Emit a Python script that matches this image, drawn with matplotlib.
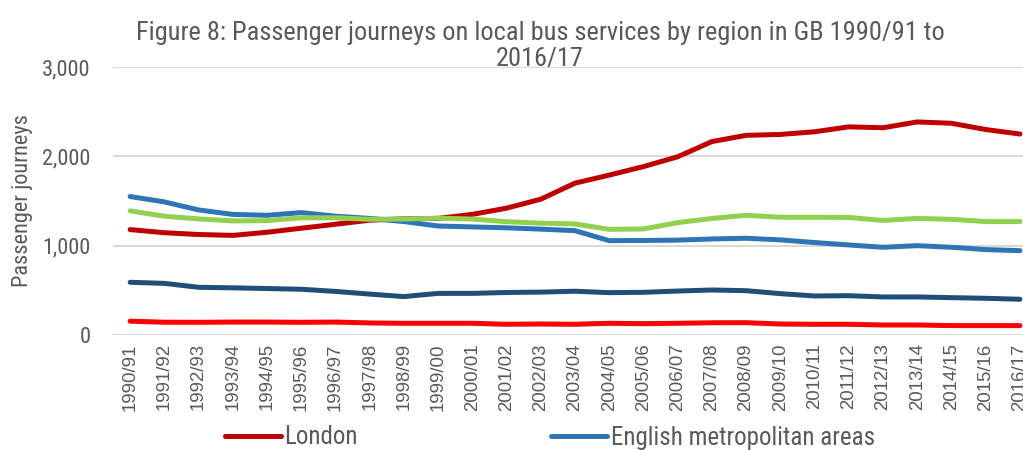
import matplotlib
matplotlib.use("Agg")
import matplotlib.pyplot as plt
import numpy as np

years = ["1990/91", "1991/92", "1992/93", "1993/94", "1994/95", "1995/96", "1996/97",
         "1997/98", "1998/99", "1999/00", "2000/01", "2001/02", "2002/03", "2003/04",
         "2004/05", "2005/06", "2006/07", "2007/08", "2008/09", "2009/10", "2010/11",
         "2011/12", "2012/13", "2013/14", "2014/15", "2015/16", "2016/17"]

london = [1180, 1145, 1125, 1115, 1150, 1195, 1240, 1285, 1300, 1305, 1350, 1420,
          1520, 1700, 1790, 1885, 1995, 2165, 2235, 2245, 2275, 2330, 2320, 2385,
          2370, 2300, 2250]
eng_met = [1550, 1490, 1400, 1350, 1340, 1370, 1330, 1305, 1270, 1220, 1210, 1200,
           1185, 1168, 1056, 1058, 1062, 1075, 1083, 1065, 1035, 1008, 982, 1000,
           982, 956, 944]
eng_nonmet = [1390, 1330, 1300, 1277, 1280, 1312, 1312, 1295, 1298, 1308, 1298, 1268,
              1252, 1243, 1183, 1187, 1258, 1305, 1340, 1318, 1318, 1316, 1282, 1305,
              1295, 1270, 1270]
scotland = [590, 578, 534, 528, 520, 512, 488, 458, 430, 466, 466, 476, 480, 490,
            474, 478, 492, 504, 496, 463, 437, 440, 426, 426, 418, 411, 400]
wales = [155, 143, 142, 145, 145, 142, 145, 135, 131, 131, 131, 120, 123, 120, 131,
         127, 131, 137, 138, 123, 120, 120, 112, 112, 105, 105, 105]

NARROW = ["Roboto Condensed", "DejaVu Sans"]
GREY = "#595959"

fig = plt.figure(figsize=(10.23, 4.5), dpi=100)
ax = fig.add_axes([113 / 1023, 1 - 335 / 450, 924 / 1023, 268 / 450])

x = np.arange(len(years))
lw = 3.6
h_lon, = ax.plot(x, london, color="#C00000", lw=lw, label="London", solid_capstyle="round")
h_met, = ax.plot(x, eng_met, color="#2E75B6", lw=lw, label="English metropolitan areas", solid_capstyle="round")
h_non, = ax.plot(x, eng_nonmet, color="#92D050", lw=lw, label="English non-metropolitan areas", solid_capstyle="round")
h_sco, = ax.plot(x, scotland, color="#1F4E79", lw=lw, label="Scotland", solid_capstyle="round")
h_wal, = ax.plot(x, wales, color="#FF0000", lw=lw, label="Wales", solid_capstyle="round")

ax.set_xlim(-0.5, len(years) - 0.5)
ax.set_ylim(0, 3000)
ax.set_yticks([0, 1000, 2000, 3000])
ax.set_yticklabels(["0", "1,000", "2,000", "3,000"], family=NARROW, fontsize=16, color=GREY)
ax.set_xticks(x)
ax.set_xticklabels(years, rotation=90, family=["Liberation Sans", "DejaVu Sans"],
                   fontsize=13.4, color=GREY)
ax.tick_params(axis="x", length=0, pad=6)
ax.tick_params(axis="y", length=0, pad=16)
ax.grid(axis="y", color="#D9D9D9", lw=1.5)
ax.set_axisbelow(True)
for s in ax.spines.values():
    s.set_visible(False)

fig.text(23 / 1023, 1 - 201 / 450, "Passenger journeys", rotation=90, ha="center", va="center",
         family=NARROW, fontsize=16, color=GREY)
fig.text(540 / 1023, 1 - 46 / 450, "Figure 8: Passenger journeys on local bus services by region in GB 1990/91 to\n2016/17",
         ha="center", va="center", family=NARROW, fontsize=19, color=GREY, linespacing=1.1)

fig.legend(handles=[h_lon, h_sco, h_wal, h_met, h_non], ncol=2, loc="upper left",
           bbox_to_anchor=(212 / 1023, 1 - 413 / 450), frameon=False,
           prop={"family": NARROW, "size": 18}, labelcolor=GREY,
           handlelength=2.25, handletextpad=0.15, columnspacing=7.2, borderpad=0)

fig.savefig("out.png", dpi=100)
